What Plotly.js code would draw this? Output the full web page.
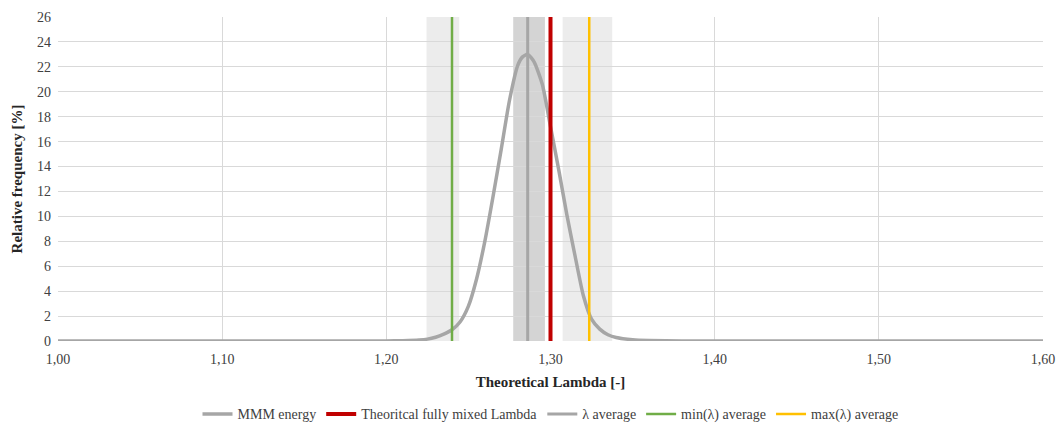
<!DOCTYPE html>
<html>
<head>
<meta charset="utf-8">
<script src="https://cdn.plot.ly/plotly-3.0.1.min.js"></script>
<style>html,body{margin:0;padding:0;background:#fff;}#chart{width:1059px;height:425px;}</style>
</head>
<body>
<div id="chart"></div>
<script>
// Distribution curve (MMM energy)
var lambdaX = [1.00, 1.10, 1.18, 1.20, 1.21, 1.22, 1.225, 1.23, 1.235, 1.24, 1.245, 1.25, 1.255, 1.26, 1.265, 1.27, 1.275, 1.28, 1.283, 1.2861, 1.29, 1.295, 1.30, 1.305, 1.31, 1.315, 1.32, 1.325, 1.33, 1.335, 1.34, 1.35, 1.36, 1.38, 1.40, 1.50, 1.60];
var freqY   = [0, 0, 0, 0.01, 0.03, 0.08, 0.15, 0.3, 0.55, 0.9, 1.55, 2.8, 5.0, 8.0, 11.6, 15.4, 19.3, 22.1, 22.8, 23.0, 22.4, 20.6, 17.2, 13.75, 10.1, 6.8, 3.65, 1.75, 0.95, 0.5, 0.28, 0.1, 0.04, 0.01, 0, 0, 0];

// Reference lambda values
var theoMixed = 1.300;
var lambdaAvg = 1.2861;
var minLambdaAvg = 1.2400;
var maxLambdaAvg = 1.3236;

// Shaded bands (low, high)
var bandLow  = [1.2245, 1.2773, 1.3074];
var bandHigh = [1.2444, 1.2966, 1.3376];
var bandColors = ['#ececec', '#d4d4d4', '#ececec'];

var yMax = 26;
var xTicks = [1.00, 1.10, 1.20, 1.30, 1.40, 1.50, 1.60];

var serif = 'Liberation Serif';

function vline(x, name, color, width) {
  return {x: [x, x], y: [0, yMax], mode: 'lines', name: name,
          line: {color: color, width: width}, hoverinfo: 'skip'};
}

var traces = [
  {x: lambdaX, y: freqY, mode: 'lines', name: 'MMM energy',
   line: {color: '#a6a6a6', width: 3.5, shape: 'spline', smoothing: 0.6}},
  vline(theoMixed, 'Theoritcal fully mixed Lambda', '#c00000', 4),
  vline(lambdaAvg, 'λ average', '#a6a6a6', 3),
  vline(minLambdaAvg, 'min(λ) average', '#70ad47', 2.5),
  vline(maxLambdaAvg, 'max(λ) average', '#ffc000', 2.5)
];

var shapes = bandLow.map(function (lo, i) {
  return {type: 'rect', xref: 'x', yref: 'y', x0: lo, x1: bandHigh[i], y0: 0, y1: yMax,
          fillcolor: bandColors[i], line: {width: 0}, layer: 'below'};
});

var layout = {
  width: 1059, height: 425,
  margin: {l: 58, r: 16, t: 17, b: 84, autoexpand: false},
  paper_bgcolor: '#ffffff', plot_bgcolor: 'rgba(0,0,0,0)',
  separators: ',.',
  font: {family: serif, size: 13, color: '#404040'},
  showlegend: true,
  legend: {orientation: 'h', x: 0.5, xanchor: 'center', xref: 'paper',
           yref: 'container', y: 0.025, yanchor: 'middle',
           font: {family: serif, size: 14, color: '#404040'}, itemwidth: 30, traceorder: 'normal'},
  xaxis: {range: [1.0, 1.6], tickvals: xTicks, tickformat: '.2f', showgrid: true,
          gridcolor: '#d9d9d9', gridwidth: 1, zeroline: false, showline: false, ticks: '',
          ticklabelstandoff: 8,
          tickfont: {family: serif, size: 14, color: '#404040'},
          title: {text: '<b>Theoretical Lambda [-]</b>', font: {family: serif, size: 15, color: '#262626'}, standoff: 10}},
  yaxis: {range: [0, yMax], dtick: 2, tick0: 0, showgrid: true, gridcolor: '#d9d9d9', gridwidth: 1,
          zeroline: false, showline: false, ticks: '',
          ticklabelstandoff: 6,
          tickfont: {family: serif, size: 14, color: '#404040'},
          title: {text: '<b>Relative frequency [%]</b>', font: {family: serif, size: 15, color: '#262626'}, standoff: 10}},
  shapes: shapes
};

Plotly.newPlot('chart', traces, layout, {displayModeBar: false, staticPlot: true});
</script>
</body>
</html>
